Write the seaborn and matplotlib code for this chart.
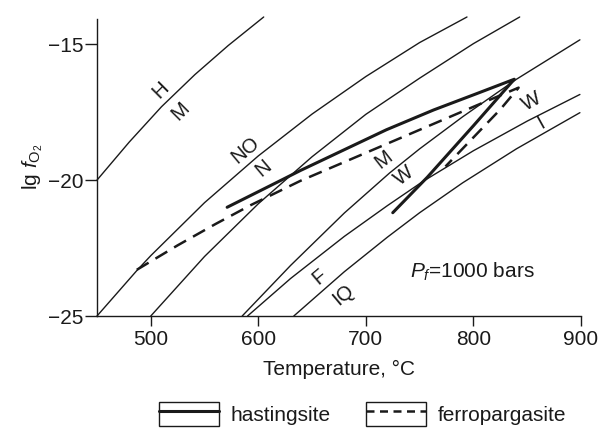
import matplotlib
matplotlib.use("Agg")
import matplotlib.pyplot as plt
import seaborn as sns
from matplotlib.lines import Line2D
from matplotlib.patches import Rectangle
from matplotlib.legend_handler import HandlerTuple

# Oxygen buffer curves, lg fO2 vs temperature (degC), Pf = 1000 bars
hm_t = [450, 480, 510, 541, 572, 605]
hm_f = [-20.0, -18.6, -17.3, -16.12, -15.05, -14.0]

nno_t = [450, 487, 500, 550, 600, 650, 700, 750, 794]
nno_f = [-25.0, -23.33, -22.78, -20.83, -19.11, -17.57, -16.19, -14.94, -14.0]

fmq_t = [500, 550, 600, 650, 700, 750, 800, 843]
fmq_f = [-25.0, -22.81, -20.87, -19.14, -17.58, -16.25, -14.98, -14.0]

mw_t = [585, 630, 680, 722, 750, 790, 840, 899]
mw_f = [-25.0, -23.14, -21.21, -19.74, -18.85, -17.67, -16.29, -14.84]

wi_t = [590, 630, 680, 720, 753, 800, 850, 899]
wi_f = [-25.0, -23.62, -22.07, -20.94, -20.05, -18.92, -17.83, -16.85]

qif_t = [633, 680, 720, 750, 790, 840, 899]
qif_f = [-25.0, -23.37, -22.1, -21.2, -20.1, -18.85, -17.52]

# Amphibole stability limits
hast_t = [571, 623, 639, 679, 719, 763, 803, 838, 800, 757, 725]
hast_f = [-21.0, -19.97, -19.65, -18.9, -18.15, -17.42, -16.82, -16.29, -18.0, -19.9, -21.2]

fprg_t = [487, 525, 560, 593, 639, 701, 763, 812, 842, 825, 774]
fprg_f = [-23.3, -22.4, -21.62, -20.92, -20.03, -18.98, -17.93, -17.1, -16.6, -17.4, -19.5]

# Buffer labels: (text, T, lg fO2, rotation)
buffer_labels = [
    ("H", 509, -16.69, 45), ("M", 528, -17.48, 45),
    ("NO", 588, -18.88, 40), ("N", 605, -19.55, 40),
    ("M", 716, -19.24, 38), ("W", 735, -19.85, 38),
    ("W", 854, -17.12, 29), ("I", 863, -17.91, 29),
    ("F", 657, -23.57, 40), ("IQ", 679, -24.23, 40),
]

legend_names = ["hastingsite", "ferropargasite"]

sns.set_theme(style="ticks")
plt.rcParams["font.family"] = ["Liberation Sans", "DejaVu Sans"]
plt.rcParams["mathtext.fontset"] = "custom"
plt.rcParams["mathtext.rm"] = "Liberation Sans"
plt.rcParams["mathtext.it"] = "Liberation Sans:italic"
plt.rcParams["text.color"] = "black"
plt.rcParams["axes.labelcolor"] = "black"

FS = 15
INK = "#1a1a1a"

fig = plt.figure(figsize=(6.01, 4.29), dpi=100)
ax = fig.add_axes([0.1614, 0.2634, 0.9667 - 0.1614, 0.9604 - 0.2634])

thin = 1.0
for t, f in [(hm_t, hm_f), (nno_t, nno_f), (fmq_t, fmq_f),
             (mw_t, mw_f), (wi_t, wi_f), (qif_t, qif_f)]:
    sns.lineplot(x=t, y=f, sort=False, estimator=None, color=INK,
                 linewidth=thin, ax=ax, legend=False, clip_on=False)

sns.lineplot(x=hast_t, y=hast_f, sort=False, estimator=None, color=INK,
             linewidth=2.2, ax=ax, legend=False)
sns.lineplot(x=fprg_t, y=fprg_f, sort=False, estimator=None, color=INK,
             linewidth=1.8, linestyle=(0, (5.5, 3.2)), ax=ax, legend=False)

for txt, t, f, rot in buffer_labels:
    ax.text(t, f, txt, rotation=rot, rotation_mode="anchor", ha="center",
            va="center", fontsize=FS - 0.5, color=INK)

ax.text(741, -23.39, r"$P_f$=1000 bars", ha="left", va="center",
        fontsize=FS, color=INK)

ax.set_xlim(450, 900)
ax.set_ylim(-25, -14.0)
ax.set_xticks([500, 600, 700, 800, 900])
ax.set_yticks([-15, -20, -25])
sns.despine(ax=ax)
ax.spines["left"].set_bounds(-25, -14.09)
for s in ("left", "bottom"):
    ax.spines[s].set_linewidth(1.0)
    ax.spines[s].set_color(INK)
ax.tick_params(axis="y", direction="out", length=8.5, width=1.0, pad=1.5,
               labelsize=FS, colors=INK)
ax.tick_params(axis="x", direction="out", length=7, width=1.0, pad=3,
               labelsize=FS, colors=INK)
ax.set_xlabel("Temperature, °C", fontsize=FS, labelpad=8, color=INK)
ax.set_ylabel(r"lg $f_{\mathrm{O}_2}$", fontsize=FS, labelpad=2, color=INK)
ax.grid(False)

box = Rectangle((0, 0), 1, 1, facecolor="none", edgecolor=INK, linewidth=1.0)
box2 = Rectangle((0, 0), 1, 1, facecolor="none", edgecolor=INK, linewidth=1.0)
h_line = Line2D([], [], color=INK, linewidth=2.2)
f_line = Line2D([], [], color=INK, linewidth=1.8, linestyle=(0, (3.2, 2.2)))
leg = fig.legend([(box, h_line), (box2, f_line)], legend_names,
                 handler_map={tuple: HandlerTuple(ndivide=1, pad=0)},
                 loc="center", bbox_to_anchor=(0.603, 0.035), ncol=2,
                 frameon=False, fontsize=FS, handlelength=2.9,
                 handleheight=1.45, handletextpad=0.55, columnspacing=1.7,
                 borderpad=0)
for txt in leg.get_texts():
    txt.set_color(INK)

fig.savefig("out.png", dpi=100)
